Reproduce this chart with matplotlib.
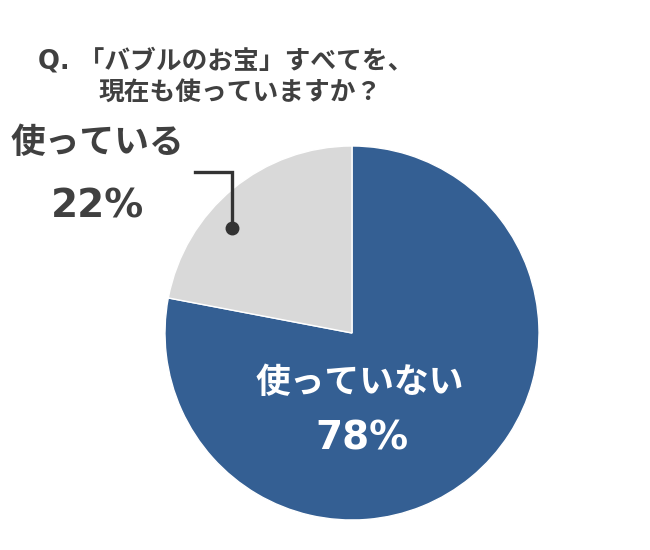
import matplotlib
matplotlib.use("Agg")
import matplotlib.pyplot as plt

plt.rcParams['font.family'] = ['Noto Sans CJK JP', 'DejaVu Sans']

# data
labels = ['使っていない', '使っている']
values = [78, 22]
colors = ['#345F93', '#D9D9D9']
title_lines = ['Q. 「バブルのお宝」すべてを、', '現在も使っていますか？']
text_dark = '#404040'
latin = ['DejaVu Sans', 'Noto Sans CJK JP']

fig = plt.figure(figsize=(6.5, 5.5), dpi=100)
ax = fig.add_axes([0, 0, 1, 1])

# pie, clockwise from 12 o'clock
ax.pie(values, colors=colors, startangle=90, counterclock=False,
       center=(352, 217), radius=187,
       wedgeprops=dict(edgecolor='white', linewidth=1))
ax.set_xlim(0, 650)
ax.set_ylim(0, 550)
ax.set_aspect('equal')
ax.axis('off')

# title, two lines
ax.text(226, 489, title_lines[0], ha='center', va='center', fontsize=18.5,
        fontweight='bold', color=text_dark, family=latin)
ax.text(240, 457, title_lines[1], ha='center', va='center', fontsize=18.5,
        fontweight='bold', color=text_dark, family=latin)

# 使っている label with leader line
ax.text(97, 407, labels[1], ha='center', va='center', fontsize=25,
        fontweight='bold', color=text_dark)
ax.text(97, 343, f'{values[1]}%', ha='center', va='center', fontsize=28,
        fontweight='bold', color=text_dark, family=latin)
ax.plot([195, 232, 232], [378, 378, 322], color='#333333', lw=2.4,
        solid_joinstyle='miter')
ax.plot([232], [322], 'o', color='#333333', ms=9)

# 使っていない label
ax.text(360, 167, labels[0], ha='center', va='center', fontsize=25,
        fontweight='bold', color='white')
ax.text(362, 111, f'{values[0]}%', ha='center', va='center', fontsize=28,
        fontweight='bold', color='white', family=latin)

fig.savefig('out.png', dpi=100, facecolor='white')
